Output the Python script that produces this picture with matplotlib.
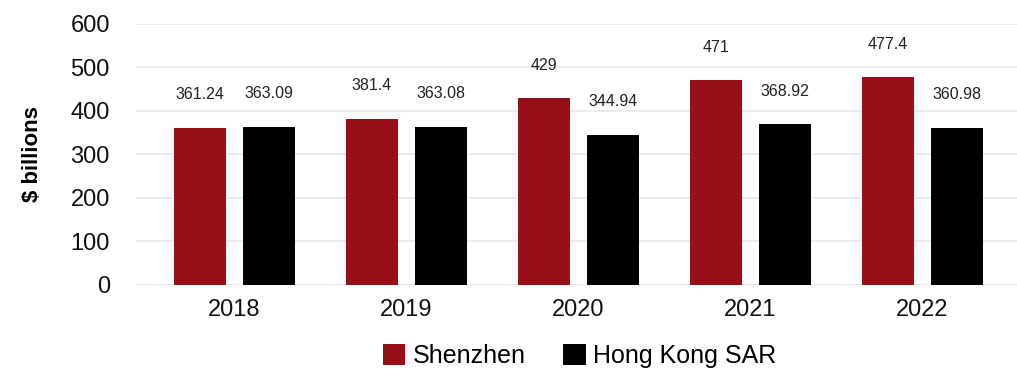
import numpy as np
import matplotlib.pyplot as plt

plt.rcParams['font.family'] = ['Liberation Sans', 'DejaVu Sans']

years = ['2018', '2019', '2020', '2021', '2022']
shenzhen = [361.24, 381.4, 429, 471, 477.4]
hong_kong = [363.09, 363.08, 344.94, 368.92, 360.98]

red = '#960F19'
black = '#000000'

fig = plt.figure(figsize=(10.17, 3.69), dpi=100)
ax = fig.add_axes([0.134, 0.228, 0.866, 0.707])

x = np.arange(len(years))
w = 0.30
b1 = ax.bar(x - 0.2, shenzhen, w, color=red, label='Shenzhen', zorder=3)
b2 = ax.bar(x + 0.2, hong_kong, w, color=black, label='Hong Kong SAR', zorder=3)

# value labels sit a fixed distance above each bar
for bars, vals in ((b1, shenzhen), (b2, hong_kong)):
    for bar, v in zip(bars, vals):
        ax.text(bar.get_x() + bar.get_width() / 2, v + 76, f'{v:g}',
                ha='center', va='center', fontsize=11.5, color='#222222')

ax.set_xlim(-0.57, 4.55)
ax.set_ylim(0, 600)
ax.set_yticks(range(0, 601, 100))
ax.set_xticks(x)
ax.set_xticklabels(years)
ax.tick_params(axis='both', length=0, labelsize=17, colors='#111111')
ax.tick_params(axis='y', pad=19)
ax.tick_params(axis='x', pad=10)
ax.yaxis.grid(True, color='#EBEBEB', linewidth=1.5, zorder=0)
ax.set_axisbelow(True)
for s in ax.spines.values():
    s.set_visible(False)

ax.set_ylabel('$ billions', fontsize=16, fontweight='bold', labelpad=20)

fig.legend(loc='center', bbox_to_anchor=(0.57, 0.035), ncol=2,
           frameon=False, fontsize=18, handlelength=0.9, handleheight=0.9,
           columnspacing=1.5, handletextpad=0.3)

plt.savefig('out.png', dpi=100)
